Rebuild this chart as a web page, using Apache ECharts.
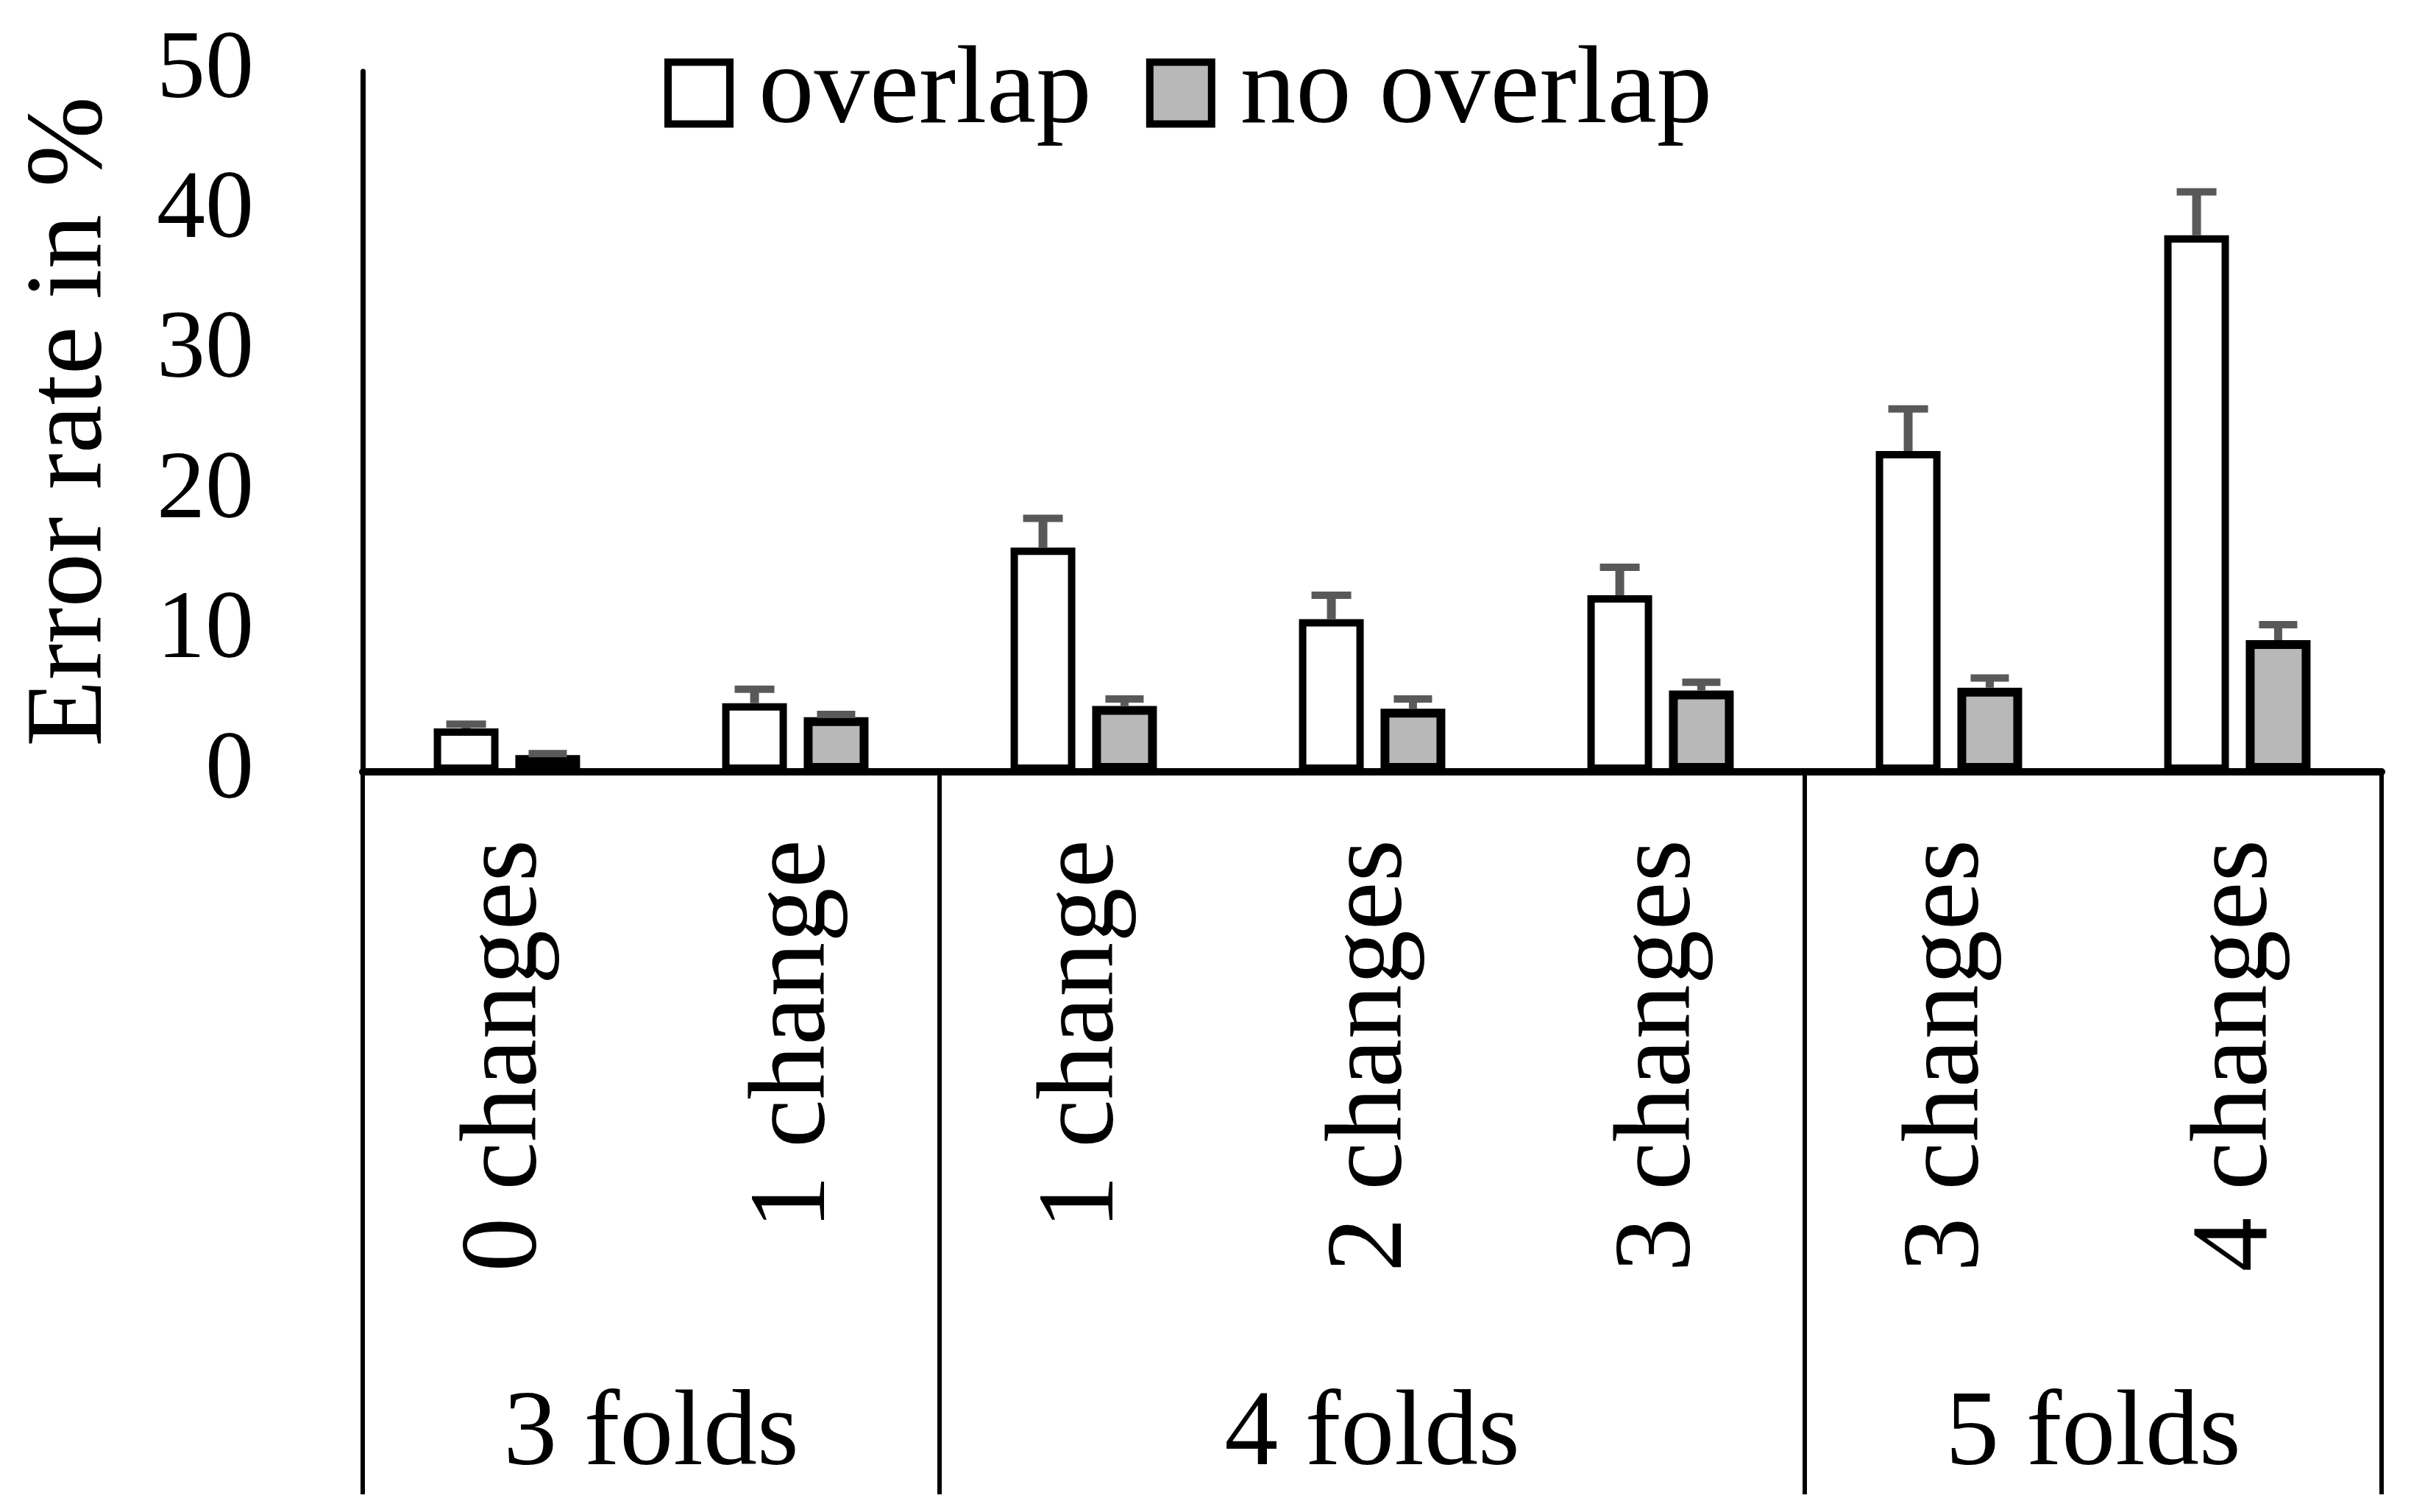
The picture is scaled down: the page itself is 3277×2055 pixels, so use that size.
<!DOCTYPE html>
<html>
<head>
<meta charset="utf-8">
<script src="https://cdn.jsdelivr.net/npm/echarts@6/dist/echarts.min.js"></script>
<style>
  html, body { margin: 0; padding: 0; background: #ffffff; }
  #chart { width: 3277px; height: 2055px; }
</style>
</head>
<body>
<div id="chart"></div>
<script>
// ---- data ----
const categories = ['0 changes', '1 change', '1 change', '2 changes', '3 changes', '3 changes', '4 changes'];
const groups = ['3 folds', '4 folds', '5 folds'];
const groupSizes = [2, 3, 2];
const seriesNames = ['overlap', 'no overlap'];
const overlap = [3.1, 4.9, 16.0, 10.9, 12.6, 22.9, 38.3];
const overlapErr = [0.3, 1.0, 2.1, 1.7, 2.0, 3.0, 3.1];
const noOverlap = [1.2, 3.9, 4.7, 4.5, 5.8, 6.0, 9.4];
const noOverlapErr = [0.1, 0.2, 0.5, 0.7, 0.6, 0.7, 1.1];
const yTicks = [0, 10, 20, 30, 40, 50];

// ---- derived ----
const groupBounds = [0];
groupSizes.forEach(s => groupBounds.push(groupBounds[groupBounds.length - 1] + s));
const groupCenters = groupSizes.map((s, i) => groupBounds[i] + s / 2);

const FONT = 'Liberation Serif';
const barW = 88;
const barGapRatio = 0.26;
const barOffset = barW * (1 + barGapRatio) / 2;

function errorSeries(values, errs, dir, capHalf, stemW) {
  return {
    type: 'custom',
    z: 10,
    silent: true,
    data: values.map((v, i) => [i, v, v + errs[i]]),
    encode: { x: 0, y: [1, 2] },
    renderItem: function (params, api) {
      const base = api.coord([api.value(0), api.value(1)]);
      const top = api.coord([api.value(0), api.value(2)]);
      const x = base[0] + dir * barOffset;
      const st = { stroke: '#595959', lineWidth: stemW, lineCap: 'butt' };
      return {
        type: 'group',
        children: [
          { type: 'line', shape: { x1: x, y1: base[1], x2: x, y2: top[1] }, style: st },
          { type: 'line', shape: { x1: x - capHalf, y1: top[1], x2: x + capHalf, y2: top[1] },
            style: { stroke: '#595959', lineWidth: 10, lineCap: 'butt' } }
        ]
      };
    }
  };
}

const chart = echarts.init(document.getElementById('chart'));
chart.setOption({
  backgroundColor: '#ffffff',
  animation: false,
  textStyle: { fontFamily: FONT, color: '#000' },
  legend: {
    data: seriesNames,
    left: 898,
    top: 46,
    icon: 'rect',
    itemWidth: 84,
    itemHeight: 84,
    itemGap: 74,
    selectedMode: false,
    itemStyle: { borderWidth: 10, borderColor: '#000' },
    textStyle: { fontFamily: FONT, fontSize: 151, color: '#000', padding: [0, 0, 0, 34] }
  },
  grid: { left: 493, right: 40, top: 97, bottom: 1006, containLabel: false },
  xAxis: [
    {
      type: 'category',
      data: categories,
      position: 'bottom',
      axisLine: { show: true, lineStyle: { color: '#000', width: 10 } },
      axisTick: { show: false },
      axisLabel: {
        interval: 0, rotate: 90, margin: 92,
        fontFamily: FONT, fontSize: 148, color: '#000'
      },
      splitLine: { show: false }
    },
    {
      type: 'value',
      min: 0,
      max: categories.length,
      position: 'bottom',
      axisLine: { show: false },
      axisTick: {
        show: true, customValues: groupBounds, length: 982,
        lineStyle: { color: '#000', width: 6 }
      },
      axisLabel: {
        show: true, customValues: groupCenters, margin: 830,
        fontFamily: FONT, fontSize: 146, color: '#000', lineHeight: 146,
        formatter: function (v) {
          const i = groupCenters.indexOf(v);
          return i >= 0 ? groups[i] : '';
        }
      },
      splitLine: { show: false }
    }
  ],
  yAxis: {
    type: 'value',
    min: yTicks[0],
    max: yTicks[yTicks.length - 1],
    interval: yTicks[1] - yTicks[0],
    name: 'Error rate in %',
    nameLocation: 'middle',
    nameRotate: 90,
    nameGap: 321,
    nameTextStyle: { fontFamily: FONT, fontSize: 148, color: '#000', lineHeight: 148 },
    axisLine: { show: true, lineStyle: { color: '#000', width: 7 } },
    axisTick: { show: false },
    axisLabel: { margin: 148, fontFamily: FONT, fontSize: 132, color: '#000' },
    splitLine: { show: false }
  },
  series: [
    {
      name: seriesNames[0],
      type: 'bar',
      data: overlap,
      barWidth: barW,
      barGap: (barGapRatio * 100) + '%',
      itemStyle: { color: '#ffffff', borderColor: '#000000', borderWidth: 10 },
      z: 2
    },
    {
      name: seriesNames[1],
      type: 'bar',
      data: noOverlap,
      barWidth: barW,
      barGap: (barGapRatio * 100) + '%',
      itemStyle: { color: '#b8b8b8', borderColor: '#000000', borderWidth: 12 },
      z: 2
    },
    errorSeries(overlap, overlapErr, -1, 27, 12),
    errorSeries(noOverlap, noOverlapErr, 1, 26, 11)
  ]
});
</script>
</body>
</html>
